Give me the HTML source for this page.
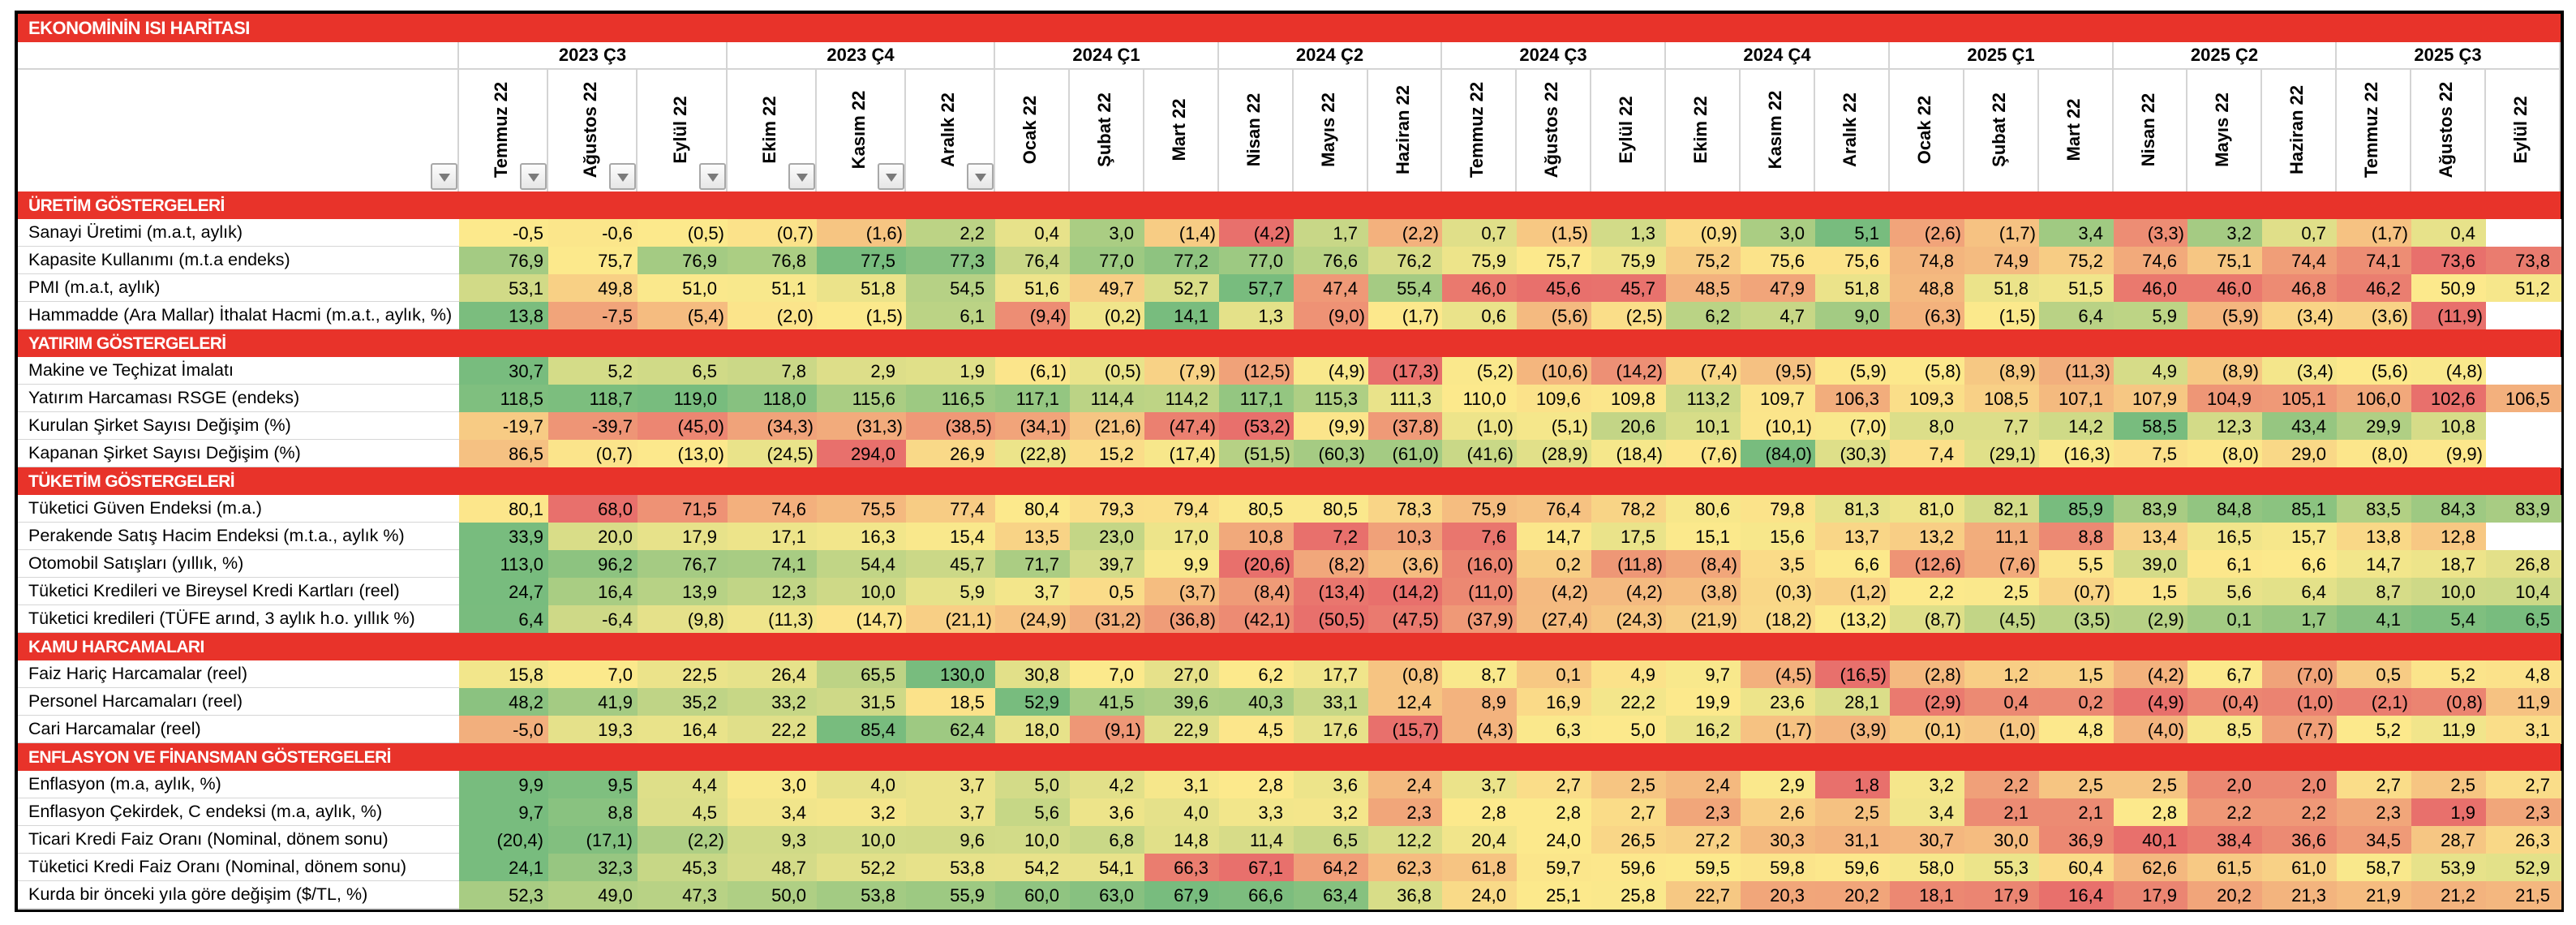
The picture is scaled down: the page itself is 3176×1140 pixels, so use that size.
<!DOCTYPE html>
<html lang="tr"><head><meta charset="utf-8">
<style>
html,body{margin:0;padding:0;background:#fff;}
body{width:3176px;height:1140px;position:relative;overflow:hidden;font-family:"Liberation Sans",sans-serif;}
#tbl{position:absolute;left:0;top:0;width:3176px;height:1140px;}
.a{position:absolute;box-sizing:border-box;}
.title{background:#E8332A;color:#fff;font-weight:bold;font-size:22px;line-height:35px;padding-left:13px;letter-spacing:-0.5px;}
.sec{background:#E8332A;color:#fff;font-weight:bold;font-size:21px;padding-left:13px;display:flex;align-items:center;letter-spacing:-0.6px;}
.lab{background:#fff;font-size:21.5px;padding-left:13px;display:flex;align-items:center;white-space:nowrap;overflow:hidden;color:#000;border-bottom:2px solid #d6d6d6;}
.cell{font-family:"Liberation Sans Narrow","Liberation Sans",sans-serif;font-size:22px;display:flex;align-items:center;justify-content:flex-end;color:#000;white-space:nowrap;}
.q{font-weight:bold;font-size:22px;display:flex;align-items:center;justify-content:center;border-right:2px solid #d4d4d4;border-bottom:2px solid #d4d4d4;}
.m{border-right:2px solid #d4d4d4;}
.mt{position:absolute;font-weight:bold;font-size:22px;white-space:nowrap;transform:translate(-50%,-50%) rotate(-90deg);}
.dd{position:absolute;width:33px;height:33px;border:2px solid #a8a8a8;border-radius:3px;background:linear-gradient(#fdfdfd,#e6e6e6);box-sizing:border-box;}
.dd::after{content:"";position:absolute;left:8px;top:11px;border-left:7px solid transparent;border-right:7px solid transparent;border-top:10px solid #7a7a7a;}
</style></head>
<body>
<div id="tbl"></div>
<script>
const quarters = ['2023 Ç3','2023 Ç4','2024 Ç1','2024 Ç2','2024 Ç3','2024 Ç4','2025 Ç1','2025 Ç2','2025 Ç3'];
const months = ['Temmuz 22','Ağustos 22','Eylül 22','Ekim 22','Kasım 22','Aralık 22','Ocak 22','Şubat 22','Mart 22','Nisan 22','Mayıs 22','Haziran 22','Temmuz 22','Ağustos 22','Eylül 22','Ekim 22','Kasım 22','Aralık 22','Ocak 22','Şubat 22','Mart 22','Nisan 22','Mayıs 22','Haziran 22','Temmuz 22','Ağustos 22','Eylül 22'];
const sectionTitles = ['ÜRETİM GÖSTERGELERİ','YATIRIM GÖSTERGELERİ','TÜKETİM GÖSTERGELERİ','KAMU HARCAMALARI','ENFLASYON VE FİNANSMAN GÖSTERGELERİ'];

const sanayi = ['-0,5','-0,6','(0,5)','(0,7)','(1,6)','2,2','0,4','3,0','(1,4)','(4,2)','1,7','(2,2)','0,7','(1,5)','1,3','(0,9)','3,0','5,1','(2,6)','(1,7)','3,4','(3,3)','3,2','0,7','(1,7)','0,4',''];
const kapasite = ['76,9','75,7','76,9','76,8','77,5','77,3','76,4','77,0','77,2','77,0','76,6','76,2','75,9','75,7','75,9','75,2','75,6','75,6','74,8','74,9','75,2','74,6','75,1','74,4','74,1','73,6','73,8'];
const pmi = ['53,1','49,8','51,0','51,1','51,8','54,5','51,6','49,7','52,7','57,7','47,4','55,4','46,0','45,6','45,7','48,5','47,9','51,8','48,8','51,8','51,5','46,0','46,0','46,8','46,2','50,9','51,2'];
const hammadde = ['13,8','-7,5','(5,4)','(2,0)','(1,5)','6,1','(9,4)','(0,2)','14,1','1,3','(9,0)','(1,7)','0,6','(5,6)','(2,5)','6,2','4,7','9,0','(6,3)','(1,5)','6,4','5,9','(5,9)','(3,4)','(3,6)','(11,9)',''];
const makine = ['30,7','5,2','6,5','7,8','2,9','1,9','(6,1)','(0,5)','(7,9)','(12,5)','(4,9)','(17,3)','(5,2)','(10,6)','(14,2)','(7,4)','(9,5)','(5,9)','(5,8)','(8,9)','(11,3)','4,9','(8,9)','(3,4)','(5,6)','(4,8)',''];
const yatirim = ['118,5','118,7','119,0','118,0','115,6','116,5','117,1','114,4','114,2','117,1','115,3','111,3','110,0','109,6','109,8','113,2','109,7','106,3','109,3','108,5','107,1','107,9','104,9','105,1','106,0','102,6','106,5'];
const kurulan = ['-19,7','-39,7','(45,0)','(34,3)','(31,3)','(38,5)','(34,1)','(21,6)','(47,4)','(53,2)','(9,9)','(37,8)','(1,0)','(5,1)','20,6','10,1','(10,1)','(7,0)','8,0','7,7','14,2','58,5','12,3','43,4','29,9','10,8',''];
const kapanan = ['86,5','(0,7)','(13,0)','(24,5)','294,0','26,9','(22,8)','15,2','(17,4)','(51,5)','(60,3)','(61,0)','(41,6)','(28,9)','(18,4)','(7,6)','(84,0)','(30,3)','7,4','(29,1)','(16,3)','7,5','(8,0)','29,0','(8,0)','(9,9)',''];
const guven = ['80,1','68,0','71,5','74,6','75,5','77,4','80,4','79,3','79,4','80,5','80,5','78,3','75,9','76,4','78,2','80,6','79,8','81,3','81,0','82,1','85,9','83,9','84,8','85,1','83,5','84,3','83,9'];
const perakende = ['33,9','20,0','17,9','17,1','16,3','15,4','13,5','23,0','17,0','10,8','7,2','10,3','7,6','14,7','17,5','15,1','15,6','13,7','13,2','11,1','8,8','13,4','16,5','15,7','13,8','12,8',''];
const otomobil = ['113,0','96,2','76,7','74,1','54,4','45,7','71,7','39,7','9,9','(20,6)','(8,2)','(3,6)','(16,0)','0,2','(11,8)','(8,4)','3,5','6,6','(12,6)','(7,6)','5,5','39,0','6,1','6,6','14,7','18,7','26,8'];
const krediKart = ['24,7','16,4','13,9','12,3','10,0','5,9','3,7','0,5','(3,7)','(8,4)','(13,4)','(14,2)','(11,0)','(4,2)','(4,2)','(3,8)','(0,3)','(1,2)','2,2','2,5','(0,7)','1,5','5,6','6,4','8,7','10,0','10,4'];
const krediTufe = ['6,4','-6,4','(9,8)','(11,3)','(14,7)','(21,1)','(24,9)','(31,2)','(36,8)','(42,1)','(50,5)','(47,5)','(37,9)','(27,4)','(24,3)','(21,9)','(18,2)','(13,2)','(8,7)','(4,5)','(3,5)','(2,9)','0,1','1,7','4,1','5,4','6,5'];
const faizHaric = ['15,8','7,0','22,5','26,4','65,5','130,0','30,8','7,0','27,0','6,2','17,7','(0,8)','8,7','0,1','4,9','9,7','(4,5)','(16,5)','(2,8)','1,2','1,5','(4,2)','6,7','(7,0)','0,5','5,2','4,8'];
const personel = ['48,2','41,9','35,2','33,2','31,5','18,5','52,9','41,5','39,6','40,3','33,1','12,4','8,9','16,9','22,2','19,9','23,6','28,1','(2,9)','0,4','0,2','(4,9)','(0,4)','(1,0)','(2,1)','(0,8)','11,9'];
const cari = ['-5,0','19,3','16,4','22,2','85,4','62,4','18,0','(9,1)','22,9','4,5','17,6','(15,7)','(4,3)','6,3','5,0','16,2','(1,7)','(3,9)','(0,1)','(1,0)','4,8','(4,0)','8,5','(7,7)','5,2','11,9','3,1'];
const enflasyon = ['9,9','9,5','4,4','3,0','4,0','3,7','5,0','4,2','3,1','2,8','3,6','2,4','3,7','2,7','2,5','2,4','2,9','1,8','3,2','2,2','2,5','2,5','2,0','2,0','2,7','2,5','2,7'];
const cekirdek = ['9,7','8,8','4,5','3,4','3,2','3,7','5,6','3,6','4,0','3,3','3,2','2,3','2,8','2,8','2,7','2,3','2,6','2,5','3,4','2,1','2,1','2,8','2,2','2,2','2,3','1,9','2,3'];
const ticariFaiz = ['(20,4)','(17,1)','(2,2)','9,3','10,0','9,6','10,0','6,8','14,8','11,4','6,5','12,2','20,4','24,0','26,5','27,2','30,3','31,1','30,7','30,0','36,9','40,1','38,4','36,6','34,5','28,7','26,3'];
const tuketiciFaiz = ['24,1','32,3','45,3','48,7','52,2','53,8','54,2','54,1','66,3','67,1','64,2','62,3','61,8','59,7','59,6','59,5','59,8','59,6','58,0','55,3','60,4','62,6','61,5','61,0','58,7','53,9','52,9'];
const kur = ['52,3','49,0','47,3','50,0','53,8','55,9','60,0','63,0','67,9','66,6','63,4','36,8','24,0','25,1','25,8','22,7','20,3','20,2','18,1','17,9','16,4','17,9','20,2','21,3','21,9','21,2','21,5'];

const sections = [
 [['Sanayi Üretimi (m.a.t, aylık)',sanayi,false],['Kapasite Kullanımı (m.t.a endeks)',kapasite,false],['PMI (m.a.t, aylık)',pmi,false],['Hammadde (Ara Mallar) İthalat Hacmi (m.a.t., aylık, %)',hammadde,false]],
 [['Makine ve Teçhizat İmalatı',makine,false],['Yatırım Harcaması RSGE (endeks)',yatirim,false],['Kurulan Şirket Sayısı Değişim (%)',kurulan,false],['Kapanan Şirket Sayısı Değişim (%)',kapanan,true]],
 [['Tüketici Güven Endeksi (m.a.)',guven,false],['Perakende Satış Hacim Endeksi (m.t.a., aylık %)',perakende,false],['Otomobil Satışları (yıllık, %)',otomobil,false],['Tüketici Kredileri ve Bireysel Kredi Kartları (reel)',krediKart,false],['Tüketici kredileri (TÜFE arınd, 3 aylık h.o. yıllık %)',krediTufe,false]],
 [['Faiz Hariç Harcamalar (reel)',faizHaric,false],['Personel Harcamaları (reel)',personel,false],['Cari Harcamalar (reel)',cari,false]],
 [['Enflasyon (m.a, aylık, %)',enflasyon,false],['Enflasyon Çekirdek, C endeksi (m.a, aylık, %)',cekirdek,false],['Ticari Kredi Faiz Oranı (Nominal, dönem sonu)',ticariFaiz,true],['Tüketici Kredi Faiz Oranı (Nominal, dönem sonu)',tuketiciFaiz,true],['Kurda bir önceki yıla göre değişim ($/TL, %)',kur,false]]
];

const T = document.getElementById('tbl');
const L = 22, LABR = 566, R = 3157, ROWH = 34, HEADB = 236;
function colX(i){ return i < 6 ? LABR + i*110.17 : 1227 + (i-6)*((R-1227)/21); }
function parseV(s){ if(!s) return null; let n = parseFloat(s.replace('(','').replace(')','').replace('-','').replace(',','.')); return (s[0]==='('||s[0]==='-') ? -n : n; }
const RED=[232,112,108], YEL=[252,233,140], GRN=[120,188,126];
function mix(a,b,t){ return 'rgb('+a.map((v,k)=>Math.round(v+(b[k]-v)*t)).join(',')+')'; }
function colorScale(vals, rev){
  const v = vals.filter(x=>x!==null).slice().sort((a,b)=>a-b);
  const mn=v[0], mx=v[v.length-1];
  const p=(v.length-1)*0.5, lo=Math.floor(p), md=v[lo]+(v[Math.ceil(p)]-v[lo])*(p-lo);
  const lowC = rev?GRN:RED, highC = rev?RED:GRN;
  return x => { if(x===null) return '#fff';
    if(x<=md) return mix(lowC,YEL, md===mn?1:(x-mn)/(md-mn));
    return mix(YEL,highC, mx===md?0:(x-md)/(mx-md)); };
}
function box(cls, x, y, w, h){ const d=document.createElement('div'); d.className='a '+cls; d.style.left=x+'px'; d.style.top=y+'px'; d.style.width=w+'px'; d.style.height=h+'px'; T.appendChild(d); return d; }

const ob = box('', 18, 13, 3143, 1111);
ob.style.border='4px solid #000';



const tt = box('title', L, 17, R-L, 35);
tt.textContent='EKONOMİNİN ISI HARİTASI';



const hl = box('', L, 52, LABR-L, 184);
hl.style.borderRight='2px solid #d4d4d4';


const hlb = box('', L, 84, LABR-L, 2); hlb.style.background='#d4d4d4';


const dd0 = document.createElement('div'); dd0.className='dd'; dd0.style.left=(LABR-35)+'px'; dd0.style.top='201px'; T.appendChild(dd0);



quarters.forEach((q,qi)=>{
  const x0=Math.round(colX(qi*3)), x1=Math.round(colX(qi*3+3));
  const d = box('q', x0, 52, x1-x0, 34);
  d.textContent=q;
  
  
});
months.forEach((m,i)=>{
  const x0=Math.round(colX(i)), x1=Math.round(colX(i+1));
  const d = box('m', x0, 86, x1-x0, 150);
  
  
  const t=document.createElement('div'); t.className='mt'; t.textContent=m;
  t.style.left=((x0+x1)/2-3)+'px'; t.style.top='160px';
  T.appendChild(t);
  
  
  if(i<6){
    const b=document.createElement('div'); b.className='dd'; b.style.left=(x1-35)+'px'; b.style.top='201px'; T.appendChild(b);
    
    
  }
});

let y = HEADB;
sections.forEach((sec,si)=>{
  const s = box('sec', L, y, R-L, ROWH+1);
  s.textContent = sectionTitles[si];
  
  
  y += ROWH;
  sec.forEach(row=>{
    const [label, strs, rev] = row;
    const vals = strs.map(parseV);
    const col = colorScale(vals, rev);
    const lb = box('lab', L, y, LABR-L, ROWH+1);
    lb.textContent = label;
    
    
    strs.forEach((str,i)=>{
      const x0=Math.round(colX(i)), x1=Math.round(colX(i+1));
      const c = box('cell', x0, y, x1-x0+1, ROWH+1);
      c.style.background = col(vals[i]);
      c.textContent = str;
      const paren = str[0]==='(';
      c.style.paddingRight = (i<2 ? 7 : (paren ? 5 : 14))+'px';
      
      
    });
    y += ROWH;
  });
});
</script>
</body></html>
